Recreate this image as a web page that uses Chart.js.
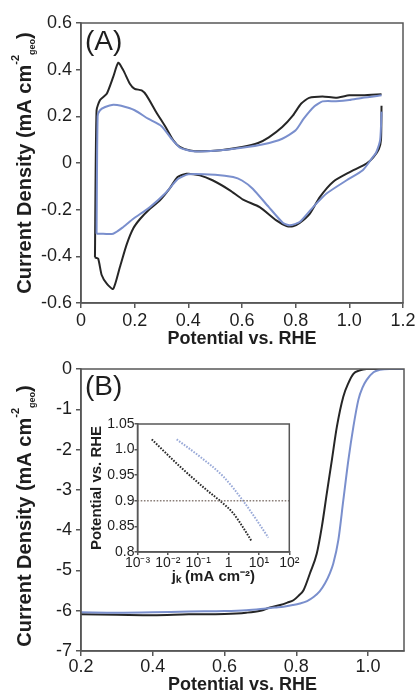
<!DOCTYPE html>
<html><head><meta charset="utf-8">
<script src="https://cdn.jsdelivr.net/npm/chart.js@4.4.1/dist/chart.umd.min.js"></script>
<style>
html,body{margin:0;padding:0;width:420px;height:693px;overflow:hidden;background:#fff;}
canvas{position:absolute;display:block;}
</style></head><body>
<canvas id="cA" width="420" height="350" style="left:0;top:0"></canvas>
<canvas id="cB" width="420" height="360" style="left:0;top:340px"></canvas>
<canvas id="cI" width="220" height="190" style="left:80px;top:405px"></canvas>
<script>
// ---------- Panel A: cyclic voltammograms (E vs RHE / V, j / mA cm-2) ----------
const cvBlackAnodicE = [0.052,0.058,0.071,0.096,0.12,0.139,0.158,0.182,0.20,0.226,0.244,0.28,0.319,0.344,0.368,0.406,0.45,0.52,0.60,0.66,0.70,0.75,0.79,0.82,0.85,0.90,0.95,1.00,1.05,1.12];
const cvBlackAnodicJ = [-0.405,0.226,0.27,0.297,0.369,0.43,0.397,0.34,0.318,0.311,0.29,0.219,0.147,0.097,0.069,0.054,0.05,0.055,0.069,0.086,0.11,0.154,0.204,0.254,0.279,0.285,0.28,0.29,0.29,0.295];
const cvBlackCathodicE = [1.12,1.118,1.11,1.09,1.064,1.0,0.94,0.89,0.853,0.815,0.79,0.766,0.728,0.666,0.604,0.555,0.49,0.443,0.393,0.36,0.33,0.294,0.257,0.22,0.195,0.17,0.145,0.12,0.096,0.077,0.064,0.052];
const cvBlackCathodicJ = [0.245,0.10,0.06,0.025,-0.003,-0.04,-0.08,-0.146,-0.217,-0.257,-0.271,-0.27,-0.246,-0.189,-0.157,-0.117,-0.074,-0.053,-0.046,-0.06,-0.11,-0.16,-0.196,-0.24,-0.28,-0.35,-0.446,-0.54,-0.517,-0.48,-0.41,-0.405];
const cvBlueAnodicE = [0.058,0.062,0.07,0.09,0.12,0.15,0.20,0.25,0.30,0.34,0.37,0.42,0.50,0.60,0.68,0.75,0.80,0.83,0.87,0.90,0.95,1.00,1.05,1.12];
const cvBlueAnodicJ = [-0.303,0.20,0.225,0.24,0.25,0.245,0.226,0.19,0.158,0.10,0.065,0.05,0.052,0.065,0.08,0.104,0.14,0.19,0.243,0.264,0.265,0.27,0.28,0.29];
const cvBlueCathodicE = [1.12,1.115,1.10,1.088,1.05,0.99,0.915,0.865,0.815,0.778,0.753,0.70,0.64,0.60,0.567,0.50,0.40,0.36,0.319,0.257,0.195,0.158,0.12,0.07,0.058];
const cvBlueCathodicJ = [0.22,0.10,0.045,0.026,-0.031,-0.074,-0.131,-0.189,-0.253,-0.267,-0.257,-0.189,-0.11,-0.075,-0.06,-0.05,-0.048,-0.07,-0.124,-0.189,-0.239,-0.274,-0.303,-0.303,-0.303];

// ---------- Panel B: ORR polarization curves ----------
const lsvBlackE = [0.20,0.30,0.40,0.50,0.60,0.66,0.70,0.727,0.755,0.775,0.792,0.806,0.82,0.838,0.857,0.871,0.885,0.899,0.913,0.931,0.945,0.959,0.975,0.996,1.02,1.10];
const lsvBlackJ = [-6.09,-6.10,-6.11,-6.09,-6.08,-6.05,-6.00,-5.92,-5.86,-5.80,-5.74,-5.63,-5.49,-5.07,-4.58,-3.92,-3.08,-2.26,-1.43,-0.68,-0.35,-0.12,-0.04,0,0,0];
const lsvBlueE = [0.20,0.30,0.40,0.50,0.60,0.66,0.70,0.74,0.764,0.79,0.81,0.83,0.848,0.865,0.88,0.893,0.903,0.917,0.931,0.945,0.959,0.973,0.985,0.996,1.015,1.033,1.06,1.10];
const lsvBlueJ = [-6.04,-6.05,-6.04,-6.02,-6.01,-5.99,-5.96,-5.92,-5.90,-5.86,-5.82,-5.76,-5.66,-5.52,-5.32,-5.08,-4.83,-4.25,-3.25,-2.26,-1.43,-0.76,-0.45,-0.27,-0.08,-0.02,0,0];

// ---------- Inset: Tafel plots (jk / mA cm-2, E / V) ----------
const tafelBlackJk = [0.00295,0.025,0.19,0.52,1.41,3.0,5.75];
const tafelBlackE = [1.02,0.967,0.921,0.90,0.876,0.848,0.821];
const tafelBlueJk = [0.0195,0.115,0.68,3.0,8.5,20.4];
const tafelBlueE = [1.02,0.986,0.947,0.90,0.862,0.828];
const refLineJk = [0.001,100];
const refLineE = [0.9,0.9];

// ---------- Tick values and labels ----------
const aXTicks = [0,0.2,0.4,0.6,0.8,1.0,1.2];
const aXTickLabels = ['0','0.2','0.4','0.6','0.8','1.0','1.2'];
const aYTicks = [-0.6,-0.4,-0.2,0,0.2,0.4,0.6];
const aYTickLabels = ['-0.6','-0.4','-0.2','0','0.2','0.4','0.6'];
const bXTicks = [0.2,0.4,0.6,0.8,1.0];
const bXTickLabels = ['0.2','0.4','0.6','0.8','1.0'];
const bYTicks = [-7,-6,-5,-4,-3,-2,-1,0];
const bYTickLabels = ['-7','-6','-5','-4','-3','-2','-1','0'];
const inXTicks = [0.001,0.01,0.1,1,10,100];
const inXTickLabels = ['10⁻³','10⁻²','10⁻¹','1','10¹','10²'];
const inYTicks = [0.8,0.85,0.9,0.95,1.0,1.05];
const inYTickLabels = ['0.8','0.85','0.9','0.95','1.0','1.05'];

const FONT = "'Liberation Sans', Arial, Helvetica, sans-serif";
const INK = '#1e1e1e';
const BLACK = '#262626';
const BLUE = '#7a8fcd';
const FRAME = '#575757';

const zip = (xs, ys) => xs.map((x, i) => ({x: x, y: ys[i]}));

function line(xs, ys, color, extra) {
  return Object.assign({data: zip(xs, ys), showLine: true, borderColor: color, backgroundColor: color,
    borderWidth: 2, pointRadius: 0, tension: 0.2, fill: false}, extra || {});
}

function axis(o) {
  return {
    type: o.type || 'linear', position: o.position, min: o.min, max: o.max,
    afterBuildTicks: s => { s.ticks = o.ticks.map(v => ({value: v})); },
    afterFit: s => { if (o.width != null) s.width = o.width; if (o.height != null) s.height = o.height; },
    grid: {drawOnChartArea: false, drawTicks: true, tickLength: o.tickLength || 5, color: FRAME, lineWidth: 1.5},
    border: {display: true, color: FRAME, width: 1.5},
    ticks: {font: {family: FONT, size: o.fontSize || 18}, color: INK, padding: o.padding, autoSkip: false,
      maxRotation: 0, minRotation: 0, callback: (v, i) => o.labels[i]},
    title: o.title ? {display: true, text: o.title, color: INK,
      font: {family: FONT, size: o.titleSize || 18, weight: 'bold'}, padding: o.titlePadding} : {display: false}
  };
}

const framePlugin = {
  id: 'frame',
  afterDatasetsDraw(chart) {
    const a = chart.chartArea, c = chart.ctx;
    c.save(); c.strokeStyle = FRAME; c.lineWidth = 1.5;
    c.strokeRect(a.left, a.top, a.right - a.left, a.bottom - a.top);
    c.restore();
  }
};

const richYTitle = {
  id: 'richYTitle',
  afterDraw(chart, args, o) {
    if (!o || !o.parts) return;
    const c = chart.ctx, a = chart.chartArea;
    c.save();
    let total = 0;
    o.parts.forEach(p => { c.font = 'bold ' + p.size + 'px ' + FONT; p.w = c.measureText(p.text).width; total += p.w; });
    c.translate(o.x, (a.top + a.bottom) / 2 + (o.shift || 0));
    c.rotate(-Math.PI / 2);
    c.fillStyle = INK; c.textBaseline = 'middle'; c.textAlign = 'left';
    let x = -total / 2;
    o.parts.forEach(p => { c.font = 'bold ' + p.size + 'px ' + FONT; c.fillText(p.text, x, p.dy); x += p.w; });
    c.restore();
  }
};

const panelLabel = {
  id: 'panelLabel',
  afterDraw(chart, args, o) {
    if (!o || !o.text) return;
    const c = chart.ctx, a = chart.chartArea;
    c.save(); c.fillStyle = INK; c.font = o.size + 'px ' + FONT;
    c.textBaseline = 'alphabetic'; c.textAlign = 'left';
    c.fillText(o.text, a.left + o.dx, a.top + o.dy);
    c.restore();
  }
};

const yTitleParts = [
  {text: 'Current Density (mA cm', size: 20, dy: 0},
  {text: '-2', size: 11, dy: -9},
  {text: 'geo', size: 9, dy: 8},
  {text: ')', size: 20, dy: 0}
];

const common = {responsive: false, animation: false, events: []};

// Panel A
new Chart(document.getElementById('cA'), {
  type: 'scatter',
  data: {datasets: [
    line(cvBlueAnodicE, cvBlueAnodicJ, BLUE),
    line(cvBlueCathodicE, cvBlueCathodicJ, BLUE),
    line(cvBlackAnodicE, cvBlackAnodicJ, BLACK),
    line(cvBlackCathodicE, cvBlackCathodicJ, BLACK)
  ]},
  options: Object.assign({}, common, {
    layout: {padding: {left: 0, right: 17, top: 23, bottom: 0}},
    plugins: {legend: {display: false}, tooltip: {enabled: false},
      richYTitle: {x: 25, parts: yTitleParts, shift: 0},
      panelLabel: {text: '(A)', size: 28, dx: 4, dy: 27}},
    scales: {
      x: axis({position: 'bottom', min: 0, max: 1.2, ticks: aXTicks, labels: aXTickLabels, height: 47, padding: 2,
        title: 'Potential vs. RHE', titlePadding: {top: 0, bottom: 0}}),
      y: axis({position: 'left', min: -0.6, max: 0.6, ticks: aYTicks, labels: aYTickLabels, width: 81, padding: 4})
    }
  }),
  plugins: [framePlugin, richYTitle, panelLabel]
});

// Panel B
const mono = {cubicInterpolationMode: 'monotone'};
new Chart(document.getElementById('cB'), {
  type: 'scatter',
  data: {datasets: [
    line(lsvBlueE, lsvBlueJ, BLUE, mono),
    line(lsvBlackE, lsvBlackJ, BLACK, mono)
  ]},
  options: Object.assign({}, common, {
    layout: {padding: {left: 0, right: 16, top: 29, bottom: 0}},
    plugins: {legend: {display: false}, tooltip: {enabled: false},
      richYTitle: {x: 25, parts: yTitleParts, shift: 6},
      panelLabel: {text: '(B)', size: 28, dx: 4, dy: 26}},
    scales: {
      x: axis({position: 'bottom', min: 0.2, max: 1.1, ticks: bXTicks, labels: bXTickLabels, height: 49, padding: 0,
        title: 'Potential vs. RHE', titlePadding: {top: 0, bottom: 4}}),
      y: axis({position: 'left', min: -7, max: 0, ticks: bYTicks, labels: bYTickLabels, width: 81, padding: 4})
    }
  }),
  plugins: [framePlugin, richYTitle, panelLabel]
});

// Inset (Tafel)
new Chart(document.getElementById('cI'), {
  type: 'scatter',
  data: {datasets: [
    line(refLineJk, refLineE, '#8a7e78', {borderWidth: 1.6, borderDash: [1.6, 1.6], tension: 0}),
    line(tafelBlueJk, tafelBlueE, '#9aaad8', {borderWidth: 2, borderDash: [1.6, 1.4], cubicInterpolationMode: 'monotone'}),
    line(tafelBlackJk, tafelBlackE, '#2a2a2a', {borderWidth: 2, borderDash: [1.6, 1.4], cubicInterpolationMode: 'monotone'})
  ]},
  options: Object.assign({}, common, {
    layout: {padding: {left: 0, right: 10.7, top: 19, bottom: 0}},
    plugins: {legend: {display: false}, tooltip: {enabled: false}},
    scales: {
      x: axis({type: 'logarithmic', position: 'bottom', min: 0.001, max: 100, ticks: inXTicks, labels: inXTickLabels,
        height: 43, padding: 0, tickLength: 3, fontSize: 14,
        title: 'jₖ (mA cm⁻²)', titleSize: 15, titlePadding: {top: 0, bottom: 9}}),
      y: axis({position: 'left', min: 0.8, max: 1.05, ticks: inYTicks, labels: inYTickLabels, width: 57.5,
        padding: 0, tickLength: 3, fontSize: 14,
        title: 'Potential vs. RHE', titleSize: 15, titlePadding: {top: 8, bottom: 0}})
    }
  }),
  plugins: [framePlugin]
});
</script></body></html>
